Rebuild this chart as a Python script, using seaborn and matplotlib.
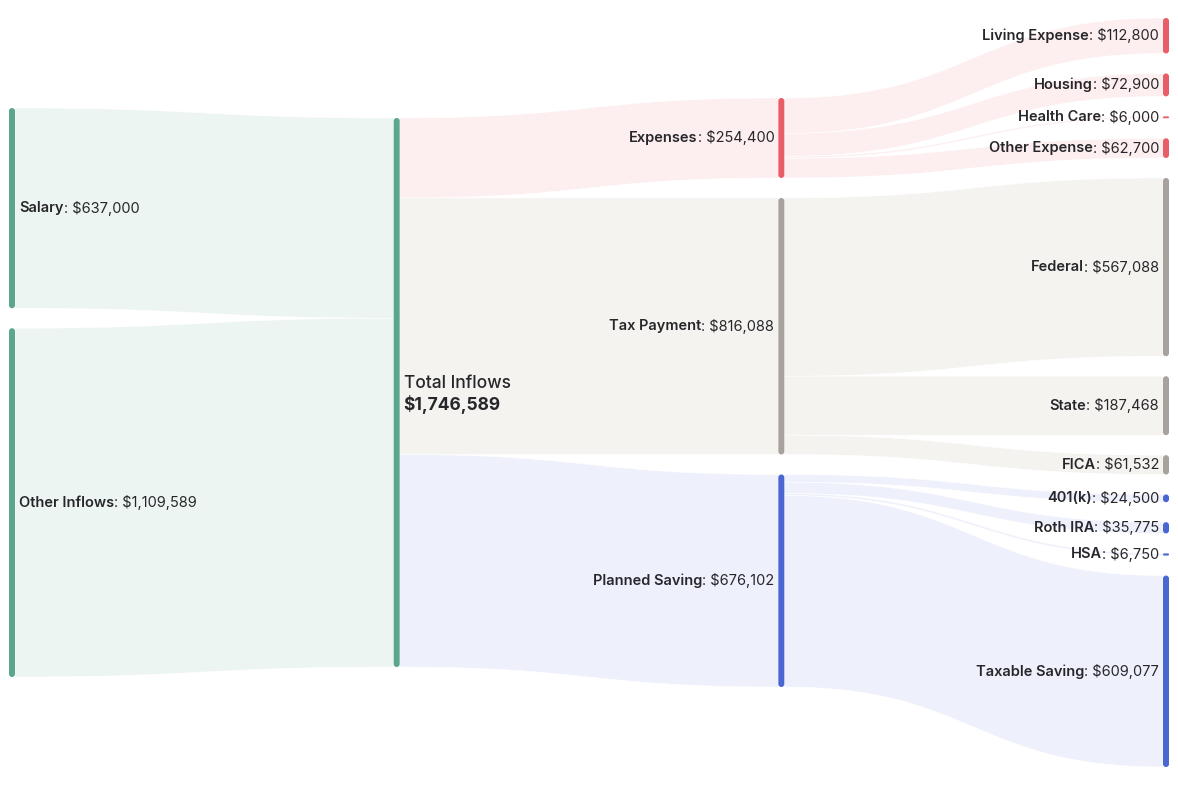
"""
Sankey chart of yearly cash flow: inflows, taxes, expenses and savings.
"""

import matplotlib.pyplot as plt
import seaborn as sns
from matplotlib.patches import FancyBboxPatch, PathPatch
from matplotlib.path import Path

# -------------------------------------------------------
# Data
# -------------------------------------------------------

NODE_NAMES = [
    "Salary", "Other Inflows",
    "Total Inflows",
    "Expenses", "Tax Payment", "Planned Saving",
    "Living Expense", "Housing", "Health Care", "Other Expense",
    "Federal", "State", "FICA",
    "401(k)", "Roth IRA", "HSA", "Taxable Saving",
]
NODE_COLUMNS = [0, 0, 1, 2, 2, 2, 3, 3, 3, 3, 3, 3, 3, 3, 3, 3, 3]
NODE_GROUPS = [
    "income", "income", "income",
    "expense", "tax", "saving",
    "expense", "expense", "expense", "expense",
    "tax", "tax", "tax",
    "saving", "saving", "saving", "saving",
]

LINK_SOURCES = [
    "Salary", "Other Inflows",
    "Total Inflows", "Total Inflows", "Total Inflows",
    "Expenses", "Expenses", "Expenses", "Expenses",
    "Tax Payment", "Tax Payment", "Tax Payment",
    "Planned Saving", "Planned Saving", "Planned Saving", "Planned Saving",
]
LINK_TARGETS = [
    "Total Inflows", "Total Inflows",
    "Expenses", "Tax Payment", "Planned Saving",
    "Living Expense", "Housing", "Health Care", "Other Expense",
    "Federal", "State", "FICA",
    "401(k)", "Roth IRA", "HSA", "Taxable Saving",
]
LINK_VALUES = [
    637000, 1109589,
    254400, 816088, 676102,
    112800, 72900, 6000, 62700,
    567088, 187468, 61532,
    24500, 35775, 6750, 609077,
]

# -------------------------------------------------------
# Style
# -------------------------------------------------------

sns.set_theme(style="white")
plt.rcParams["font.family"] = ["Inter", "DejaVu Sans"]

NODE_COLORS = {
    "income": "#5aa78b",
    "expense": "#e95d69",
    "tax": "#a8a29f",
    "saving": "#4a66d1",
}
LINK_COLORS = {
    "income": "#ecf5f1",
    "expense": "#fdeeef",
    "tax": "#f4f3f0",
    "saving": "#eef0fb",
}
TEXT_COLOR = "#27272b"

WIDTH, HEIGHT = 1178, 785
MARGIN_Y = 18
X_LEFT, X_RIGHT = 9, 1169
NODE_WIDTH = 6
NODE_PAD = 20
LABEL_GAP = 4
FONT_SIZE = 10.5


# -------------------------------------------------------
# Layout
# -------------------------------------------------------

def compute_layout():
    nodes = {
        name: {"col": col, "group": grp, "in": [], "out": []}
        for name, col, grp in zip(NODE_NAMES, NODE_COLUMNS, NODE_GROUPS)
    }
    links = []
    for src, tgt, val in zip(LINK_SOURCES, LINK_TARGETS, LINK_VALUES):
        link = {"source": src, "target": tgt, "value": val}
        links.append(link)
        nodes[src]["out"].append(link)
        nodes[tgt]["in"].append(link)

    # a node is worth what flows into it (or out of it, for the sources)
    for node in nodes.values():
        incoming = node["in"] if node["in"] else node["out"]
        node["value"] = sum(l["value"] for l in incoming)

    n_cols = max(NODE_COLUMNS) + 1
    columns = [[n for n in NODE_NAMES if nodes[n]["col"] == c] for c in range(n_cols)]

    ky = min(
        (HEIGHT - 2 * MARGIN_Y - (len(col) - 1) * NODE_PAD)
        / sum(nodes[n]["value"] for n in col)
        for col in columns
    )

    step = (X_RIGHT - X_LEFT - NODE_WIDTH) / (n_cols - 1)
    for c, col in enumerate(columns):
        total = sum(nodes[n]["value"] for n in col) * ky + (len(col) - 1) * NODE_PAD
        y = (HEIGHT - total) / 2
        for n in col:
            node = nodes[n]
            node["x0"] = X_LEFT + c * step
            node["x1"] = node["x0"] + NODE_WIDTH
            node["y0"] = y
            node["y1"] = y + node["value"] * ky
            y = node["y1"] + NODE_PAD

    for link in links:
        link["width"] = link["value"] * ky

    for node in nodes.values():
        y = node["y0"]
        for link in sorted(node["out"], key=lambda l: nodes[l["target"]]["y0"]):
            link["sy"] = y
            y += link["width"]
        y = node["y0"]
        for link in sorted(node["in"], key=lambda l: nodes[l["source"]]["y0"]):
            link["ty"] = y
            y += link["width"]

    return nodes, links


# -------------------------------------------------------
# Drawing helpers
# -------------------------------------------------------

def draw_link(ax, nodes, link):
    x0 = nodes[link["source"]]["x1"]
    x1 = nodes[link["target"]]["x0"]
    xm = (x0 + x1) / 2
    sy, ty, w = link["sy"], link["ty"], link["width"]

    verts = [
        (x0, sy), (xm, sy), (xm, ty), (x1, ty),
        (x1, ty + w),
        (xm, ty + w), (xm, sy + w), (x0, sy + w),
        (x0, sy),
    ]
    codes = [
        Path.MOVETO, Path.CURVE4, Path.CURVE4, Path.CURVE4,
        Path.LINETO,
        Path.CURVE4, Path.CURVE4, Path.CURVE4,
        Path.CLOSEPOLY,
    ]
    color = LINK_COLORS[nodes[link["target"]]["group"]]
    ax.add_patch(PathPatch(Path(verts, codes), facecolor=color,
                           edgecolor="white", linewidth=0.4, zorder=1))


def draw_node(ax, node):
    h = node["y1"] - node["y0"]
    radius = min(3, h / 2)
    ax.add_patch(FancyBboxPatch(
        (node["x0"], node["y0"]), NODE_WIDTH, h,
        boxstyle=f"round,pad=0,rounding_size={radius}",
        facecolor=NODE_COLORS[node["group"]],
        edgecolor="none",
        zorder=3,
    ))


def draw_label(ax, name, node):
    y = (node["y0"] + node["y1"]) / 2
    value_text = f": ${node['value']:,.0f}"

    if node["col"] == 0:
        bold = ax.text(node["x1"] + LABEL_GAP, y, name, ha="left", va="center",
                       fontsize=FONT_SIZE, fontweight="semibold", color=TEXT_COLOR, zorder=4)
        ax.annotate(value_text, xy=(1, 0.5), xycoords=bold, ha="left", va="center",
                    fontsize=FONT_SIZE, color=TEXT_COLOR, zorder=4)
    else:
        value = ax.text(node["x0"] - LABEL_GAP, y, value_text, ha="right", va="center",
                        fontsize=FONT_SIZE, color=TEXT_COLOR, zorder=4)
        ax.annotate(name, xy=(0, 0.5), xycoords=value, ha="right", va="center",
                    fontsize=FONT_SIZE, fontweight="semibold", color=TEXT_COLOR, zorder=4)


def draw_total_label(ax, name, node):
    y = (node["y0"] + node["y1"]) / 2
    x = node["x1"] + LABEL_GAP
    ax.text(x, y - 4, name, ha="left", va="baseline",
            fontsize=12.5, fontweight="medium", color=TEXT_COLOR, zorder=4)
    ax.text(x, y + 17, f"${node['value']:,.0f}", ha="left", va="baseline",
            fontsize=12.5, fontweight="bold", color=TEXT_COLOR, zorder=4)


# -------------------------------------------------------
# Figure
# -------------------------------------------------------

fig = plt.figure(figsize=(WIDTH / 100, HEIGHT / 100), dpi=100)
ax = fig.add_axes([0, 0, 1, 1])
ax.set_xlim(0, WIDTH)
ax.set_ylim(HEIGHT, 0)
ax.axis("off")

nodes, links = compute_layout()

for link in links:
    draw_link(ax, nodes, link)

for name in NODE_NAMES:
    draw_node(ax, nodes[name])
    if nodes[name]["col"] == 1:
        draw_total_label(ax, name, nodes[name])
    else:
        draw_label(ax, name, nodes[name])

fig.savefig("out.png", dpi=100, facecolor="white")
